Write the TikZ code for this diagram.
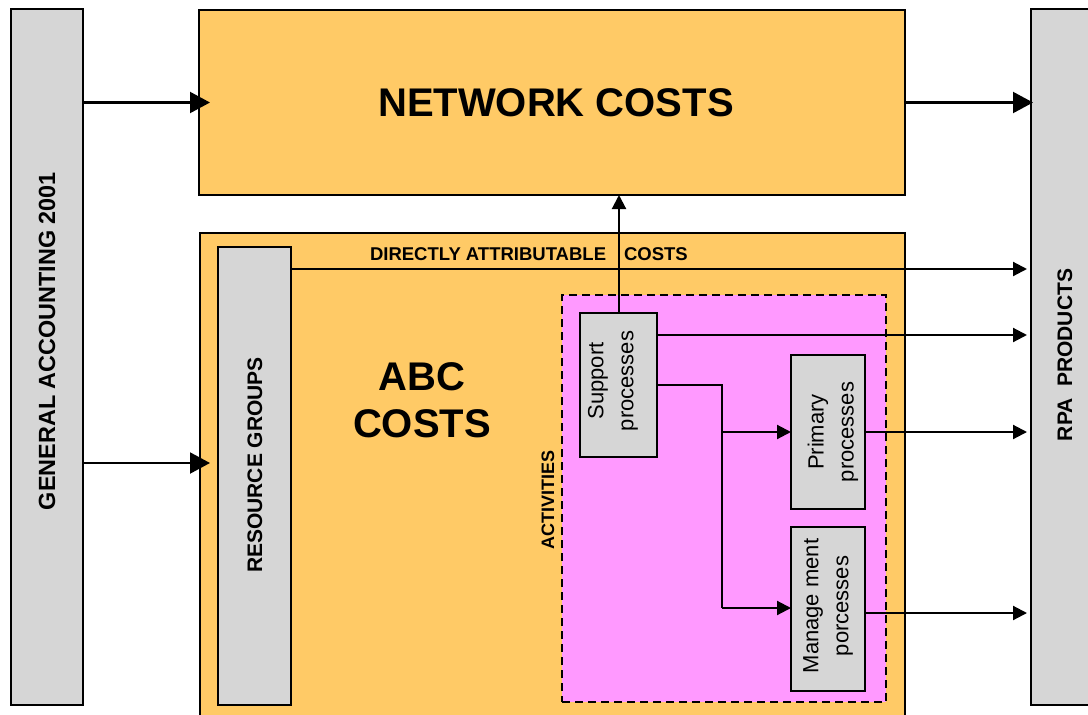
\documentclass[tikz,border=0pt]{standalone}
\usepackage{fontspec}
\setmainfont{Liberation Sans}
\usetikzlibrary{arrows.meta}
\definecolor{orng}{HTML}{FFCA66}
\definecolor{pnk}{HTML}{FF99FF}
\definecolor{gry}{HTML}{D6D6D6}
\begin{document}
\begin{tikzpicture}[x=1pt,y=-1pt,line width=2.1pt,
  box/.style={draw, rectangle, inner sep=0pt, outer sep=0pt, anchor=north west},
  bigtip/.style={-{Triangle[length=20pt,width=21pt]}},
  smalltip/.style={-{Triangle[length=14pt,width=14pt]}},
  lbl/.style={inner sep=0pt, align=center},
  proc/.style={lbl, rotate=90, font=\fontsize{22}{30}\selectfont}]
\useasboundingbox (0,0) rectangle (1088,715);
% boxes
\node[box, fill=gry, minimum width=72pt, minimum height=696pt] (gen) at (11,9) {};
\node[box, fill=gry, minimum width=72pt, minimum height=696pt] (rpa) at (1031,9) {};
\node[box, fill=orng, minimum width=706pt, minimum height=185pt] (net) at (199,10) {};
\node[box, draw=none, fill=orng, minimum width=705pt, minimum height=484pt] (abc) at (200,233) {};
\draw (abc.south west) -- (abc.north west) -- (abc.north east) -- (abc.south east);
\node[box, fill=gry, minimum width=73pt, minimum height=458pt] (res) at (218,247) {};
\node[box, fill=pnk, dash pattern=on 8pt off 5pt, minimum width=324pt, minimum height=407pt] (act) at (562,295) {};
\node[box, fill=gry, minimum width=77pt, minimum height=144pt] (sup) at (580,313) {};
\node[box, fill=gry, minimum width=74pt, minimum height=154pt] (pri) at (791,355) {};
\node[box, fill=gry, minimum width=74pt, minimum height=164pt] (man) at (791,527) {};
% labels
\node[lbl, font=\fontsize{40}{47}\selectfont\bfseries] (netl) at (556,103) {NETWORK COSTS};
\node[lbl, font=\fontsize{40}{47}\selectfont\bfseries] (abcl) at (422,400) {ABC\\COSTS};
\node[lbl, rotate=90, font=\fontsize{23.4}{28}\selectfont\bfseries] (genl) at (47,341) {GENERAL ACCOUNTING 2001};
\node[lbl, rotate=90, font=\fontsize{21}{26}\selectfont\bfseries] (resl) at (255,465) {RESOURCE GROUPS};
\node[lbl, rotate=90, font=\fontsize{21}{26}\selectfont\bfseries] (rpal) at (1065,355) {RPA\ \ PRODUCTS};
\node[lbl, rotate=90, font=\fontsize{18}{22}\selectfont\bfseries] (actl) at (548,500) {ACTIVITIES};
\node[lbl, anchor=west, font=\fontsize{18.5}{22}\selectfont\bfseries] (dirl) at (369,254) {DIRECTLY ATTRIBUTABLE\hspace{18pt}COSTS};
\node[proc] (supl) at (613,381) {Support\\processes};
\node[proc] (pril) at (833,432) {Primary\\processes};
\node[proc] (manl) at (828,606) {Manage ment\\porcesses};
% connectors
\draw[bigtip] (gen.east |- net.west) -- ([xshift=11pt]net.west);
\draw[bigtip] (gen.east |- 0,463) -- ([xshift=-8pt]res.west |- 0,463);
\draw[bigtip] (net.east) -- ([xshift=2pt]rpa.west |- net.east);
\draw[smalltip] (res.east |- 0,269) -- ([xshift=-4pt]rpa.west |- 0,269);
\draw[smalltip] (sup.north -| 619,0) -- (619,195);
\draw[smalltip] (sup.east |- 0,335) -- ([xshift=-4pt]rpa.west |- 0,335);
\draw (sup.east |- 0,385) -- (722,385) -- (722,608);
\draw[smalltip] (722,432) -- (pri.west |- 0,432);
\draw[smalltip] (722,608) -- (man.west |- 0,608);
\draw[smalltip] (pri.east |- 0,432) -- ([xshift=-4pt]rpa.west |- 0,432);
\draw[smalltip] (man.east |- 0,613) -- ([xshift=-4pt]rpa.west |- 0,613);
\end{tikzpicture}
\end{document}
